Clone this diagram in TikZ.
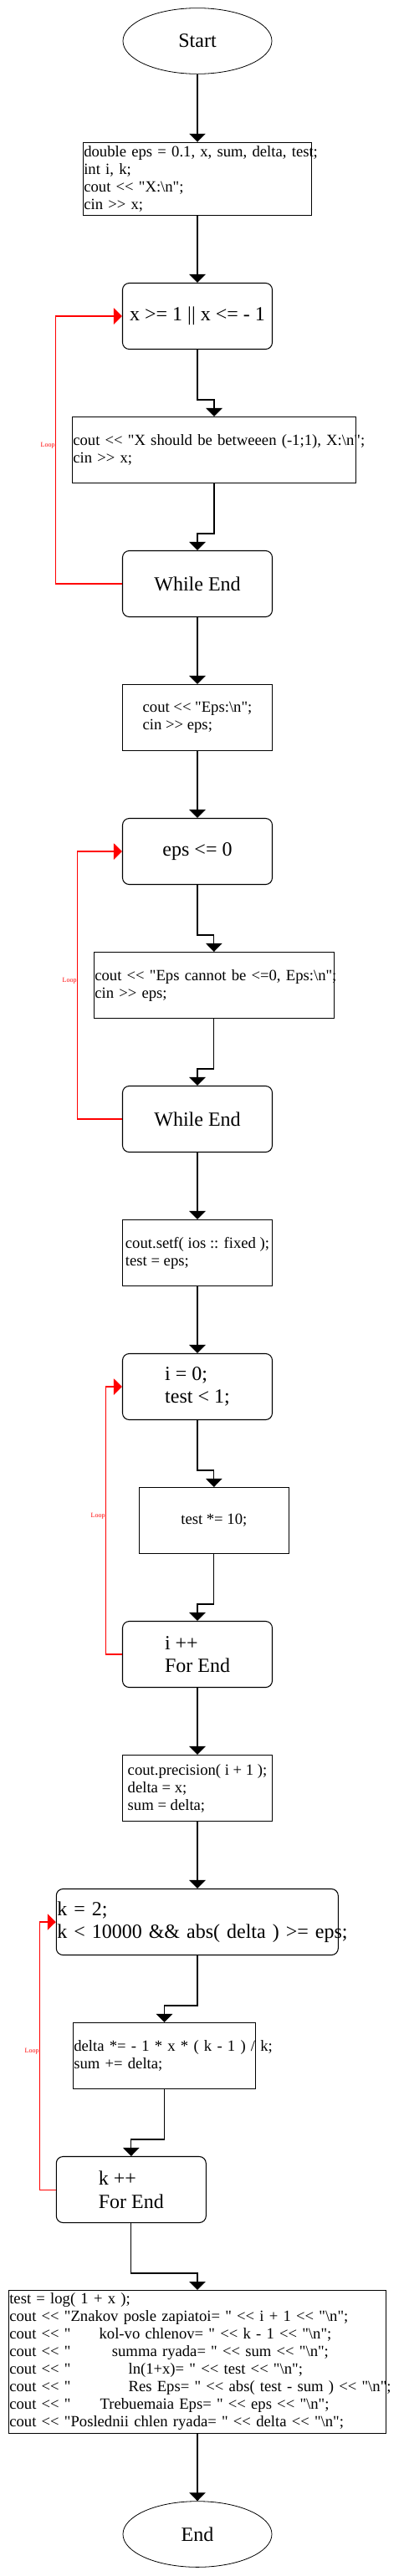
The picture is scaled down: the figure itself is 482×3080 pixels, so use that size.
\documentclass[tikz,border=0pt]{standalone}
\usepackage{fontspec}
\newfontfamily\tnr{Liberation Serif}
\usetikzlibrary{arrows.meta,shapes.geometric,calc}
\setlength\parindent{0pt}
\newcommand\fsmall{\tnr\fontsize{14}{15.75}\selectfont}
\newcommand\fbig{\tnr\fontsize{18}{20.7}\selectfont}
\newcommand\bs{\textbackslash}
\newcommand\indl[2]{\mbox{\rlap{cout << "}\hspace*{#1}#2}}
\begin{document}
\begin{tikzpicture}[x=0.75pt,y=-0.75pt,
  base/.style={draw=black, line width=0.8pt, inner sep=0pt, font=\fsmall, align=left},
  proc/.style={base, rectangle, minimum width=134.25pt, minimum height=59.25pt},
  rnd/.style={base, rectangle, rounded corners=6pt, minimum width=134.25pt, minimum height=59.25pt, font=\fbig},
  term/.style={base, ellipse, minimum width=133.5pt, minimum height=59pt, font=\fbig, line width=0.6pt},
  flow/.style={draw=black, line width=0.8pt, -{Triangle[length=7.5pt,width=14.5pt]}},
  loopline/.style={draw=red, line width=0.8pt, -{Triangle[length=7.5pt,width=14.5pt]}},
  looplab/.style={font=\tnr\fontsize{6}{7}\selectfont, text=red, anchor=east, inner sep=0pt, xshift=-0.2pt, yshift=3.75pt}
]
\fill[white] (0,0) rectangle (482,3080);
\useasboundingbox (0,0) rectangle (482,3080);

% nodes
\node[term] (start) at (236,49) {Start};
\node[proc, minimum width=204.75pt, minimum height=65.25pt, text width=203.25pt, inner xsep=0.75pt] (b1) at (235.8,213.8)
  {\mbox{double eps = 0.1, x, sum, delta, test;}\\int i, k;\\cout << "X:\bs n";\\cin >> x;};
\node[rnd] (c1) at (236,378) {x >= 1 || x <= - 1};
\node[proc, minimum width=254.55pt, text width=253.05pt, inner xsep=0.75pt] (b2) at (256,538)
  {\mbox{cout << "X should be betweeen (-1;1), X:\bs n";}\\cin >> x;};
\node[rnd] (w1) at (236,698) {While End};
\node[proc] (b3) at (236,858) {cout << "Eps:\bs n";\\cin >> eps;};
\node[rnd] (c2) at (236,1018) {eps <= 0};
\node[proc, minimum width=215.25pt, text width=213.75pt, inner xsep=0.75pt] (b4) at (255.8,1178)
  {\mbox{cout << "Eps cannot be <=0, Eps:\bs n";}\\cin >> eps;};
\node[rnd] (w2) at (236,1338) {While End};
\node[proc] (b5) at (236,1498) {cout.setf( ios :: fixed );\\test = eps;};
\node[rnd] (c3) at (236,1658) {i = 0;\\test < 1;};
\node[proc] (b6) at (255.8,1818) {test *= 10;};
\node[rnd] (f1) at (236,1978) {i ++\\For End};
\node[proc] (b7) at (236,2138) {cout.precision( i + 1 );\\delta = x;\\sum = delta;};
\node[rnd, minimum width=252.75pt, text width=251.25pt, inner xsep=0.75pt] (c4) at (235.8,2298)
  {k = 2;\\\mbox{k < 10000 \&\& abs( delta ) >= eps;}};
\node[proc, minimum width=163.8pt, text width=162.3pt, inner xsep=0.75pt] (b8) at (196.5,2458)
  {\mbox{delta *= - 1 * x * ( k - 1 ) / k;}\\sum += delta;};
\node[rnd] (f2) at (156.8,2618) {k ++\\For End};
\node[proc, minimum width=338.55pt, minimum height=128.25pt, text width=337.05pt, inner xsep=0.75pt] (b9) at (236,2824)
  {\mbox{test = log( 1 + x );}\\
   \mbox{cout << "Znakov posle zapiatoi= " << i + 1 << "\bs n";}\\
   \indl{80.5pt}{kol-vo chlenov= " << k - 1 << "\bs n";}\\
   \indl{91.95pt}{summa ryada= " << sum << "\bs n";}\\
   \indl{106.7pt}{ln(1+x)= " << test << "\bs n";}\\
   \indl{106.7pt}{Res Eps= " << abs( test - sum ) << "\bs n";}\\
   \indl{81.2pt}{Trebuemaia Eps= " << eps << "\bs n";}\\
   \mbox{cout << "Poslednii chlen ryada= " << delta << "\bs n";}};
\node[term] (end) at (236,3030) {End};

% straight connectors
\draw[flow] (start.south) -- (b1.north -| start.south);
\draw[flow] (b1.south -| c1.north) -- (c1.north);
\draw[flow] (w1.south) -- (b3.north);
\draw[flow] (b3.south) -- (c2.north);
\draw[flow] (w2.south) -- (b5.north);
\draw[flow] (b5.south) -- (c3.north);
\draw[flow] (f1.south) -- (b7.north);
\draw[flow] (b7.south) -- (c4.north -| b7.south);
\draw[flow] (b9.south) -- (end.north);

% elbow connectors
\draw[flow] (c1.south) |- ($(b2.north)+(0,-20)$) -- (b2.north);
\draw[flow] (b2.south) |- ($(w1.north)+(0,-20)$) -- (w1.north);
\draw[flow] (c2.south) |- ($(b4.north)+(0,-20)$) -- (b4.north);
\draw[flow] (b4.south) |- ($(w2.north)+(0,-20)$) -- (w2.north);
\draw[flow] (c3.south) |- ($(b6.north)+(0,-20)$) -- (b6.north);
\draw[flow] (b6.south) |- ($(f1.north)+(0,-20)$) -- (f1.north);
\draw[flow] (c4.south -| b7.south) |- ($(b8.north)+(0,-20)$) -- (b8.north);
\draw[flow] (b8.south) |- ($(f2.north)+(0,-20)$) -- (f2.north);
\draw[flow] (f2.south) |- ($(b9.north)+(0,-20)$) -- (b9.north);

% loops
\coordinate (l1) at (66.3,0);
\coordinate (l2) at (92.3,0);
\coordinate (l3) at (126.3,0);
\coordinate (l4) at (47.3,0);
\draw[loopline] (w1.west) -- (w1.west -| l1) -- node[looplab]{Loop} (c1.west -| l1) -- (c1.west);
\draw[loopline] (w2.west) -- (w2.west -| l2) -- node[looplab]{Loop} (c2.west -| l2) -- (c2.west);
\draw[loopline] (f1.west) -- (f1.west -| l3) -- node[looplab]{Loop} (c3.west -| l3) -- (c3.west);
\draw[loopline] (f2.west) -- (f2.west -| l4) -- node[looplab]{Loop} (c4.west -| l4) -- (c4.west);
\end{tikzpicture}
\end{document}
